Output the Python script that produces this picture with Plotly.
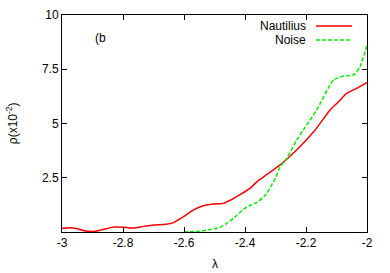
import plotly.graph_objects as go

# Nautilius series (lambda, rho x10^-2)
naut_x = [-3.0, -2.974, -2.95, -2.93, -2.90, -2.87, -2.83, -2.80, -2.77, -2.74, -2.70, -2.66, -2.636,
          -2.624, -2.60, -2.57, -2.548, -2.526, -2.50, -2.471, -2.45, -2.427, -2.384, -2.362, -2.33,
          -2.307, -2.285, -2.263, -2.209, -2.17, -2.121, -2.09, -2.067, -2.034, -2.0]
naut_y = [0.17, 0.2, 0.15, 0.07, 0.02, 0.1, 0.23, 0.22, 0.18, 0.24, 0.32, 0.36, 0.42,
          0.52, 0.72, 1.01, 1.15, 1.24, 1.29, 1.32, 1.45, 1.63, 2.01, 2.3, 2.63,
          2.86, 3.09, 3.35, 4.09, 4.7, 5.62, 6.05, 6.39, 6.62, 6.88]

# Noise series
noise_x = [-2.60, -2.55, -2.526, -2.50, -2.482, -2.46, -2.438, -2.405, -2.38, -2.362, -2.33, -2.30,
           -2.285, -2.263, -2.23, -2.209, -2.165, -2.11, -2.077, -2.044, -2.023, -2.0]
noise_y = [0.0, 0.03, 0.09, 0.15, 0.22, 0.4, 0.63, 1.05, 1.25, 1.35, 1.75, 2.5,
           3.0, 3.4, 4.24, 4.7, 5.62, 7.0, 7.19, 7.24, 7.62, 8.62]

series_names = ["Nautilius", "Noise"]
series_colors = ["#ff0000", "#00ee00"]
series_dash = ["solid", "4px,2px"]

x_ticks = [-3, -2.8, -2.6, -2.4, -2.2, -2]
x_labels = ["-3", "-2.8", "-2.6", "-2.4", "-2.2", "-2"]
y_ticks = [2.5, 5, 7.5, 10]
y_labels = ["2.5", "5", "7.5", "10"]

font = dict(family="Liberation Sans, Arial, sans-serif", size=12, color="#000")

fig = go.Figure()
for xs, ys, name, c, d in zip([naut_x, noise_x], [naut_y, noise_y], series_names, series_colors, series_dash):
    fig.add_trace(go.Scatter(x=xs, y=ys, mode="lines", name=name,
                             line=dict(color=c, width=1.5, dash=d, shape="spline", smoothing=0.6),
                             showlegend=False, hoverinfo="skip"))

axis_common = dict(showgrid=False, zeroline=False, showline=True, linecolor="#000", linewidth=1,
                   mirror="ticks", ticks="inside", ticklen=5, tickcolor="#000", tickfont=font,
                   automargin=False)

fig.update_xaxes(range=[-3, -2], tickvals=x_ticks, ticktext=x_labels, **axis_common)
fig.update_yaxes(range=[0, 10], tickvals=y_ticks, ticktext=y_labels, **axis_common)

# axis titles
fig.add_annotation(x=0.5, y=-0.148, xref="paper", yref="paper", text="λ", showarrow=False,
                   xanchor="center", yanchor="middle", font=font)
fig.add_annotation(x=-0.165, y=0.5, xref="paper", yref="paper", text="ρ(x10<sup>-2</sup>)",
                   showarrow=False, textangle=-90, xanchor="center", yanchor="middle", font=font)

# custom legend (text left of sample, gnuplot style)
leg_y = [0.949, 0.885]
for name, c, d, yy in zip(series_names, series_colors, series_dash, leg_y):
    fig.add_annotation(x=0.807, y=yy, xref="paper", yref="paper", text=name, showarrow=False,
                       xanchor="right", yanchor="middle", font=font)
    fig.add_shape(type="line", xref="paper", yref="paper", x0=0.833, x1=0.951, y0=yy, y1=yy,
                  line=dict(color=c, width=1.5, dash=d))

fig.add_annotation(x=0.1, y=0.895, xref="paper", yref="paper", text="(b", showarrow=False,
                   xanchor="left", yanchor="middle", font=font)

fig.update_layout(width=390, height=273, margin=dict(l=62, r=23, t=15, b=41),
                  plot_bgcolor="white", paper_bgcolor="white", font=font)

fig.write_html("out.html", config={"displayModeBar": False},
               post_script="document.body.style.margin='0';")
